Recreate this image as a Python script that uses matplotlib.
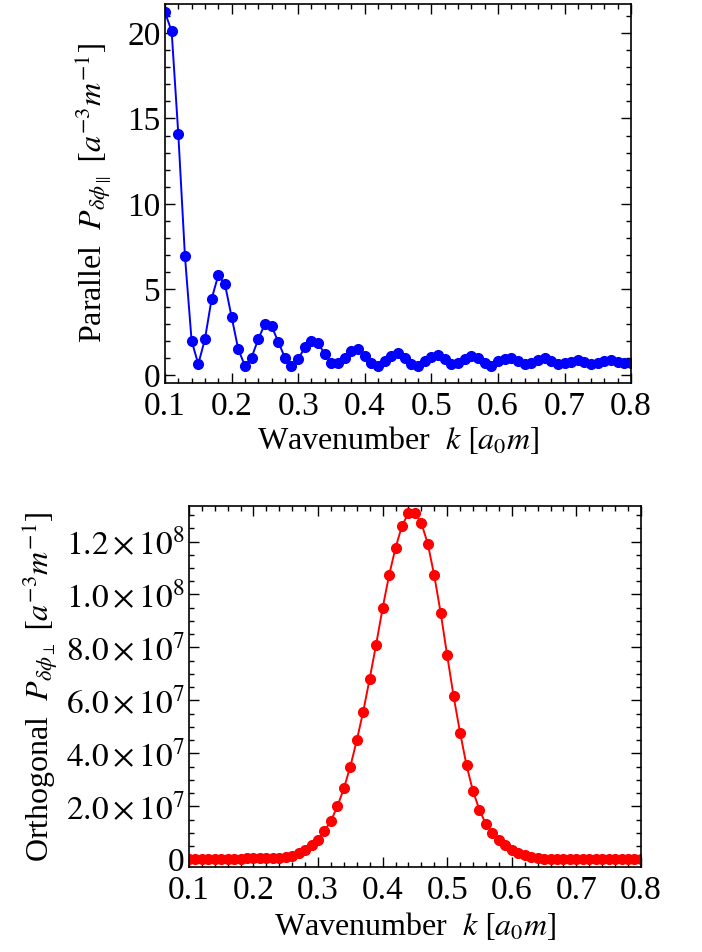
import matplotlib
matplotlib.use('Agg')
import matplotlib.pyplot as plt
from matplotlib.ticker import MultipleLocator, FixedLocator
import numpy as np

plt.rcParams['font.family'] = ['Liberation Serif', 'DejaVu Serif']
plt.rcParams['mathtext.fontset'] = 'stix'

# wavenumber grid (same for both panels)
k = np.round(np.arange(0.10, 0.805, 0.01), 2)

# parallel power spectrum
p_par = [21.2, 20.1, 14.1, 6.95, 2.0, 0.64, 2.09, 4.44, 5.83, 5.32,
         3.41, 1.52, 0.54, 1.02, 2.09, 2.98, 2.87, 1.95, 1.02, 0.54,
         0.92, 1.62, 2.01, 1.85, 1.23, 0.68, 0.68, 1.02, 1.39, 1.50,
         1.11, 0.72, 0.52, 0.84, 1.11, 1.27, 0.98, 0.64, 0.52, 0.84,
         1.07, 1.17, 0.92, 0.64, 0.68, 0.92, 1.11, 0.98, 0.72, 0.54,
         0.80, 0.92, 0.98, 0.84, 0.64, 0.68, 0.88, 0.98, 0.84, 0.64,
         0.68, 0.78, 0.88, 0.78, 0.64, 0.68, 0.84, 0.88, 0.78, 0.68,
         0.72]

# orthogonal power spectrum, units of 1e7
p_orth = [0.0, 0.0, 0.0, 0.01, 0.01, 0.01, 0.02, 0.02, 0.03, 0.04,
          0.04, 0.05, 0.05, 0.05, 0.05, 0.08, 0.14, 0.24, 0.37, 0.55,
          0.72, 1.08, 1.45, 2.0, 2.68, 3.5, 4.49, 5.58, 6.82, 8.11,
          9.48, 10.72, 11.76, 12.59, 13.07, 13.07, 12.70, 11.91, 10.72, 9.30,
          7.70, 6.15, 4.78, 3.55, 2.57, 1.87, 1.32, 1.01, 0.72, 0.53,
          0.36, 0.25, 0.15, 0.08, 0.05, 0.03, 0.02, 0.01, 0.01, 0.01,
          0.0, 0.0, 0.0, 0.0, 0.0, 0.0, 0.0, 0.0, 0.0, 0.0,
          0.0]

orth_ticks = [0, 2e7, 4e7, 6e7, 8e7, 1e8, 1.2e8]
orth_labels = ['0', r'$2.0\times10^{7}$', r'$4.0\times10^{7}$', r'$6.0\times10^{7}$',
               r'$8.0\times10^{7}$', r'$1.0\times10^{8}$', r'$1.2\times10^{8}$']

fig = plt.figure(figsize=(7.02, 9.52), dpi=100)
ax1 = fig.add_axes([0.235, 0.598, 0.664, 0.398])
ax2 = fig.add_axes([0.269, 0.089, 0.644, 0.380])


def frame(ax):
    ax.tick_params(which='both', direction='in', top=True, right=True,
                   labelsize=24, width=1.0, pad=3)
    ax.tick_params(axis='x', which='major', pad=6)
    ax.tick_params(which='major', length=7)
    ax.tick_params(which='minor', length=3.5)
    for s in ax.spines.values():
        s.set_linewidth(1.2)
    ax.set_xlim(0.1, 0.8)
    ax.xaxis.set_major_locator(MultipleLocator(0.1))
    ax.xaxis.set_minor_locator(MultipleLocator(0.02))


ax1.plot(k, p_par, '-o', color='#0000ff', lw=1.4, ms=7)
frame(ax1)
ax1.set_ylim(-0.45, 21.7)
ax1.yaxis.set_major_locator(MultipleLocator(5))
ax1.yaxis.set_minor_locator(MultipleLocator(1))
ax1.set_xlabel(r'Wavenumber  $k\ [a_0 m]$', fontsize=23, labelpad=2)
ax1.set_ylabel(r'Parallel  $P_{\delta\phi_{\parallel}}\ [a^{-3}m^{-1}]$', fontsize=23, labelpad=10)

ax2.plot(k, np.array(p_orth) * 1e7, '-o', color='#ff0000', lw=1.4, ms=7)
frame(ax2)
ax2.set_ylim(-0.3e7, 13.36e7)
ax2.yaxis.set_major_locator(FixedLocator(orth_ticks))
ax2.set_yticklabels(orth_labels)
ax2.yaxis.set_minor_locator(MultipleLocator(0.5e7))
ax2.set_xlabel(r'Wavenumber  $k\ [a_0 m]$', fontsize=23, labelpad=3)
ax2.set_ylabel(r'Orthogonal  $P_{\delta\phi_{\perp}}\ [a^{-3}m^{-1}]$', fontsize=23, labelpad=4)

fig.savefig('out.png', dpi=100)
